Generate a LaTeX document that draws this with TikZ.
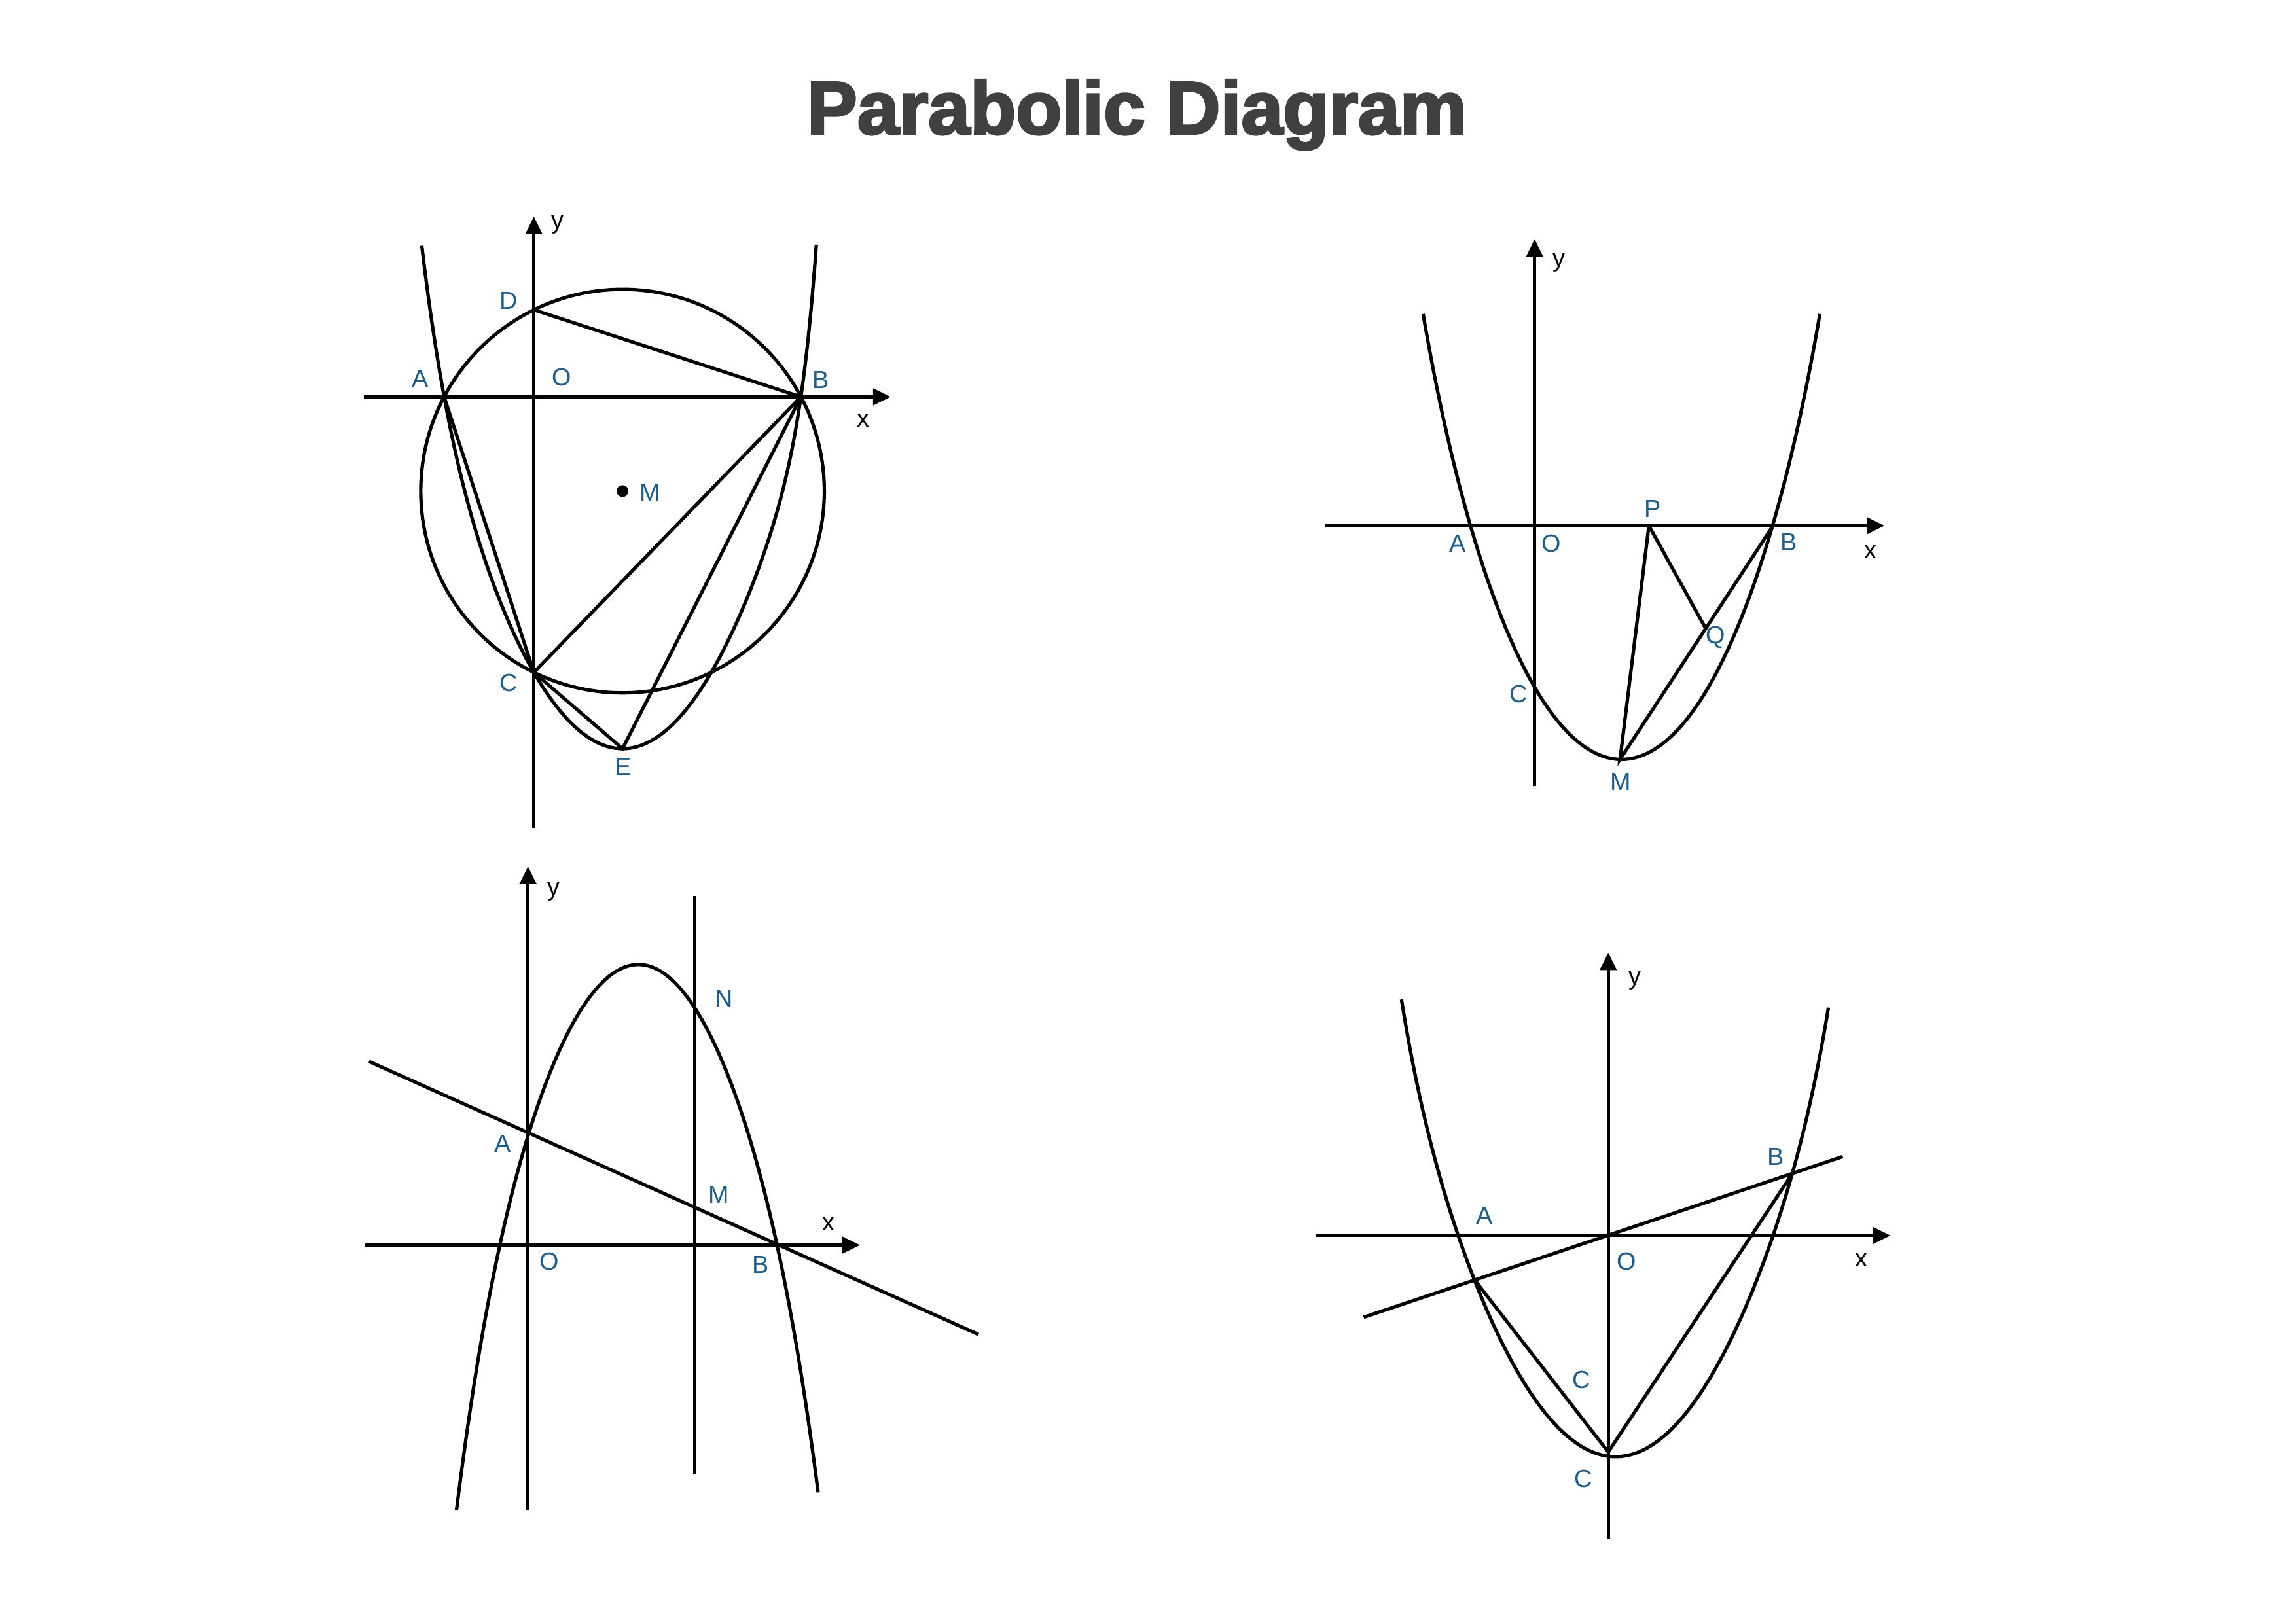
\documentclass[tikz,border=0pt]{standalone}
\usepackage{fontspec}
\setmainfont{Liberation Sans}
\newfontfamily\titlefont{Liberation Sans}[BoldFeatures={FakeBold=3}]
\usetikzlibrary{arrows.meta,calc}
\definecolor{lblblue}{RGB}{30,92,140}
\definecolor{titlegray}{RGB}{64,64,64}
\begin{document}
\begin{tikzpicture}[x=1pt,y=-1pt,
  curve/.style={line width=2.3pt, black},
  axis/.style={line width=2.3pt, black, -{Triangle[length=12pt,width=11pt]}},
  lbl/.style={text=lblblue, font=\fontsize{16.8}{18}\selectfont, inner sep=0pt},
  axl/.style={text=black, font=\fontsize{16.8}{18}\selectfont, inner sep=0pt},
]
\useasboundingbox (0,0) rectangle (1559,1102);
\node[font=\titlefont\bfseries\fontsize{51}{56}\selectfont, text=titlegray, anchor=base, inner sep=0pt] (title) at (772,91) {Parabolic Diagram};

% ---------------- Diagram 1 (top left) ----------------
\coordinate (X1s) at (247.3,269.5); \coordinate (X1e) at (604.8,269.5);
\coordinate (Y1s) at (362.5,562);  \coordinate (Y1e) at (362.5,147);
\coordinate (M1) at (422.7,333.5);
\coordinate (A1) at (301.6,269.5); \coordinate (B1) at (543.8,269.5);
\coordinate (D1) at (362.5,210.4); \coordinate (C1) at (362.5,456.6);
\coordinate (E1) at (422.7,508.4);
\draw[axis] (X1s) -- (X1e);
\draw[axis] (Y1s) -- (Y1e);
\draw[curve] (M1) circle[radius=137];
\draw[curve] plot[domain=-136.3:0, samples=120, variable=\d]
  ({422.7+\d}, {508.4-(142.66*(abs(\d)/100)^2+6.42*(abs(\d)/100)^8)})
  -- plot[domain=0:131.6, samples=120, variable=\d]
  ({422.7+\d}, {508.4-(142.66*(abs(\d)/100)^2+2.036*(abs(\d)/100)^14)});
\draw[curve] (D1) -- (B1);
\draw[curve] (A1) -- (C1) -- (B1);
\draw[curve] (C1) -- (E1) -- (B1);
\fill (M1) circle[radius=4];
\node[axl] (y1) at (378.6,152.7) {y};
\node[axl] (x1) at (586.3,285.7) {x};
\node[lbl] (lD1) at (345.5,204) {D};
\node[lbl] (lA1) at (285.5,257.2) {A};
\node[lbl] (lO1) at (381.2,256.4) {O};
\node[lbl] (lB1) at (557.5,257.8) {B};
\node[lbl] (lM1) at (441.5,334.2) {M};
\node[lbl] (lC1) at (345.5,463.8) {C};
\node[lbl] (lE1) at (423,520.5) {E};

% ---------------- Diagram 2 (top right) ----------------
\coordinate (X2s) at (899.4,357); \coordinate (X2e) at (1279.6,357);
\coordinate (Y2s) at (1042,533.8); \coordinate (Y2e) at (1042,162.4);
\coordinate (A2) at (998.7,357); \coordinate (B2) at (1203.9,357);
\coordinate (P2) at (1119.6,357); \coordinate (C2) at (1042,467);
\coordinate (M2) at (1100,515.7);
\coordinate (Q2) at ($(M2)!0.56!(B2)$);
\draw[axis] (X2s) -- (X2e);
\draw[axis] (Y2s) -- (Y2e);
\draw[curve] plot[domain=-134.7:134.7, samples=201, variable=\d]
  ({1101+\d}, {515.7-(136.32*(abs(\d)/100)^2+13.147*(abs(\d)/100)^4+0.6035*(abs(\d)/100)^10)});
\draw[curve] (P2) -- (M2) -- (B2);
\draw[curve] (P2) -- (Q2);
\node[axl] (y2) at (1058.6,178.2) {y};
\node[axl] (x2) at (1270,374.7) {x};
\node[lbl] (lP2) at (1122.3,345.4) {P};
\node[lbl] (lA2) at (989.7,369) {A};
\node[lbl] (lO2) at (1053.3,369.2) {O};
\node[lbl] (lB2) at (1214.8,368.2) {B};
\node[lbl] (lQ2) at (1164.7,432.9) {Q};
\node[lbl] (lC2) at (1031.3,471.2) {C};
\node[lbl] (lM2) at (1100.5,530.7) {M};

% ---------------- Diagram 3 (bottom left) ----------------
\coordinate (X3s) at (247.8,845.5); \coordinate (X3e) at (584,845.5);
\coordinate (Y3s) at (358.5,1025.5); \coordinate (Y3e) at (358.5,588.3);
\coordinate (V3s) at (471.7,608.3); \coordinate (V3e) at (471.7,1001);
\coordinate (L3s) at (250.6,720.8); \coordinate (L3e) at (664.4,906.2);
\draw[axis] (X3s) -- (X3e);
\draw[axis] (Y3s) -- (Y3e);
\draw[curve] (V3s) -- (V3e);
\draw[curve] (L3s) -- (L3e);
\draw[curve] plot[domain=-123.5:122, samples=201, variable=\d]
  ({433.5+\d}, {655+(201.14*(abs(\d)/100)^2+17.9*(abs(\d)/100)^6)});
\node[axl] (y3) at (376,605.3) {y};
\node[axl] (x3) at (562.5,831.4) {x};
\node[lbl] (lN3) at (491.8,678) {N};
\node[lbl] (lA3) at (341.3,776.7) {A};
\node[lbl] (lM3) at (487.9,811.1) {M};
\node[lbl] (lO3) at (372.9,856.5) {O};
\node[lbl] (lB3) at (516.4,859) {B};

% ---------------- Diagram 4 (bottom right) ----------------
\coordinate (X4s) at (893.7,839); \coordinate (X4e) at (1283.7,839);
\coordinate (Y4s) at (1092,1045.2); \coordinate (Y4e) at (1092,646.8);
\coordinate (L4s) at (926,894.5); \coordinate (L4e) at (1251.2,785.4);
\coordinate (A4) at (1001.5,869.5); \coordinate (B4) at (1217,797);
\coordinate (C4) at (1092,986);
\draw[axis] (X4s) -- (X4e);
\draw[axis] (Y4s) -- (Y4e);
\draw[curve] plot[domain=-145.4:144.5, samples=201, variable=\d]
  ({1097+\d}, {989.2-(129.99*(abs(\d)/100)^2+0.845*(abs(\d)/100)^10)});
\draw[curve] (L4s) -- (L4e);
\draw[curve] (A4) -- (C4) -- (B4);
\node[axl] (y4) at (1110.2,665.7) {y};
\node[axl] (x4) at (1263.9,855.7) {x};
\node[lbl] (lA4) at (1008.1,825.4) {A};
\node[lbl] (lB4) at (1205.6,785.4) {B};
\node[lbl] (lO4) at (1104.5,856.5) {O};
\node[lbl] (lC4a) at (1073.9,937) {C};
\node[lbl] (lC4b) at (1075.2,1004.1) {C};
\end{tikzpicture}
\end{document}
